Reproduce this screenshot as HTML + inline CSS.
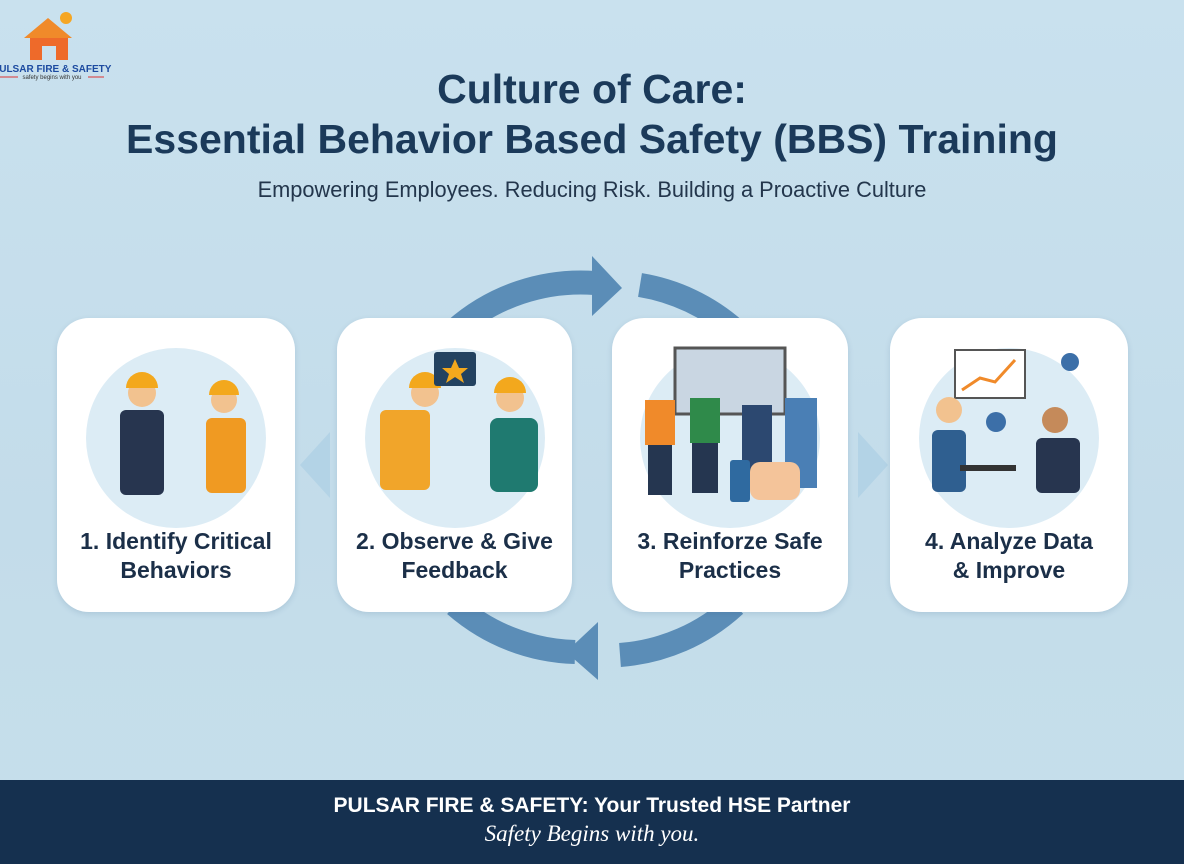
<!DOCTYPE html>
<html><head><meta charset="utf-8"><style>
*{margin:0;padding:0;box-sizing:border-box}
body{width:1184px;height:864px;overflow:hidden;font-family:"Liberation Sans","DejaVu Sans",sans-serif;background:linear-gradient(180deg,#c9e1ee 0%,#c3dcea 60%,#c6dfeb 100%);position:relative}
.t{position:absolute;left:0;width:1184px;text-align:center;color:#1b3a5a;font-weight:bold}
.card{position:absolute;top:318px;height:294px;background:#fff;border-radius:32px;box-shadow:0 2px 6px rgba(40,80,120,.15)}
.card .ill{position:absolute;left:50%;top:30px;width:180px;height:180px;margin-left:-90px;border-radius:50%;background:#dcecf5}
.card .lb{position:absolute;left:-10px;right:-10px;top:209px;text-align:center;font-weight:bold;font-size:23px;line-height:29px;color:#1b2f48}
.foot{position:absolute;left:0;top:780px;width:1184px;height:84px;background:#15304f;color:#fff;text-align:center}
</style></head><body>
<svg style="position:absolute;left:0;top:0" width="1184" height="864">
 <g fill="none" stroke="#5b8db7" stroke-width="24">
  <path d="M455 330 A190 190 0 0 1 595 283"/>
  <path d="M640 285 A190 190 0 0 1 735 330"/>
  <path d="M455 605 A190 190 0 0 0 575 652"/>
  <path d="M620 655 A190 190 0 0 0 735 605"/>
 </g>
 <polygon points="592,256 622,288 592,316" fill="#5b8db7"/>
 <polygon points="598,622 566,652 598,680" fill="#5b8db7"/>
 <polygon points="300,465 330,432 330,498" fill="#b3d3e6"/>
 <polygon points="888,465 858,432 858,498" fill="#b3d3e6"/>
 <polygon points="24,38 48,18 72,38" fill="#f08a2a"/>
 <rect x="30" y="38" width="38" height="22" fill="#ee6a2a"/>
 <rect x="42" y="46" width="14" height="14" fill="#c9e1ee"/>
 <circle cx="66" cy="18" r="6" fill="#f5a623"/>
 <text x="52" y="72" font-size="10" font-weight="bold" fill="#1c4aa0" text-anchor="middle" font-family="Liberation Sans">PULSAR FIRE &amp; SAFETY</text>
 <line x1="0" y1="77" x2="18" y2="77" stroke="#d33" stroke-width="1"/><line x1="88" y1="77" x2="104" y2="77" stroke="#d33"/>
 <text x="52" y="79" font-size="6" fill="#333" text-anchor="middle">safety begins with you</text>
 <polygon points="1128,785 1134,802 1151,808 1134,814 1128,831 1122,814 1105,808 1122,802" fill="#9fb0c2"/>
</svg>
<div class="t" style="top:66px;font-size:41px;line-height:46px">Culture of Care:</div>
<div class="t" style="top:116px;font-size:41px;line-height:46px">Essential Behavior Based Safety (BBS) Training</div>
<div class="t" style="top:177px;font-size:21.8px;font-weight:normal;color:#23364c">Empowering Employees. Reducing Risk. Building a Proactive Culture</div>

<div class="card" style="left:57px;width:238px"><div class="ill"></div><div class="lb">1. Identify Critical<br>Behaviors</div></div>
<div class="card" style="left:337px;width:235px"><div class="ill"></div><div class="lb">2. Observe &amp; Give<br>Feedback</div></div>
<div class="card" style="left:612px;width:236px"><div class="ill"></div><div class="lb">3. Reinforze Safe<br>Practices</div></div>
<div class="card" style="left:890px;width:238px"><div class="ill"></div><div class="lb">4. Analyze Data<br>&amp; Improve</div></div>

<svg style="position:absolute;left:0;top:0" width="1184" height="780">
 <g>
  <circle cx="142" cy="393" r="14" fill="#f2c28f"/><path d="M126 388 A16 16 0 0 1 158 388Z" fill="#f3a81d"/><rect x="120" y="410" width="44" height="85" rx="6" fill="#27354f"/>
  <circle cx="224" cy="400" r="13" fill="#f2c28f"/><path d="M209 395 A15 15 0 0 1 239 395Z" fill="#f3a81d"/><rect x="206" y="418" width="40" height="75" rx="6" fill="#f09a22"/>
  <circle cx="425" cy="393" r="14" fill="#f2c28f"/><path d="M409 388 A16 16 0 0 1 441 388Z" fill="#f3a81d"/><rect x="380" y="410" width="50" height="80" rx="6" fill="#f1a52a"/>
  <rect x="434" y="352" width="42" height="34" rx="3" fill="#234260"/><polygon points="455,359 459,368 468,368 461,374 464,383 455,377 446,383 449,374 442,368 451,368" fill="#f3a81d"/>
  <circle cx="510" cy="398" r="14" fill="#f2c28f"/><path d="M494 393 A16 16 0 0 1 526 393Z" fill="#f3a81d"/><rect x="490" y="418" width="48" height="74" rx="8" fill="#1f7a70"/>
  <rect x="675" y="348" width="110" height="66" fill="#c9d6e2" stroke="#555" stroke-width="3"/>
  <rect x="645" y="400" width="30" height="45" fill="#f08a2a"/><rect x="648" y="445" width="24" height="50" fill="#253650"/>
  <rect x="690" y="398" width="30" height="45" fill="#2f8a4a"/><rect x="692" y="443" width="26" height="50" fill="#253650"/>
  <rect x="742" y="405" width="30" height="85" fill="#2c4870"/><rect x="785" y="398" width="32" height="90" fill="#4a7fb5"/>
  <rect x="730" y="460" width="20" height="42" rx="3" fill="#2f6aa0"/><rect x="750" y="462" width="50" height="38" rx="10" fill="#f4c49a"/>
  <rect x="955" y="350" width="70" height="48" fill="#fff" stroke="#555" stroke-width="2"/><polyline points="962,390 980,378 995,382 1015,360" fill="none" stroke="#f08a2a" stroke-width="3"/>
  <circle cx="949" cy="410" r="13" fill="#f2c28f"/><rect x="932" y="430" width="34" height="62" rx="6" fill="#2f5f90"/>
  <rect x="960" y="465" width="56" height="6" fill="#333"/>
  <circle cx="1055" cy="420" r="13" fill="#c58a5a"/><rect x="1036" y="438" width="44" height="55" rx="6" fill="#27354f"/>
  <circle cx="996" cy="422" r="10" fill="#3c6fa8"/><circle cx="1070" cy="362" r="9" fill="#3c6fa8"/>
 </g>
</svg>

<div class="foot"><div style="padding-top:14px;font-size:21px;font-weight:bold">PULSAR FIRE &amp; SAFETY: Your Trusted HSE Partner</div><div style="font-size:23px;font-style:italic;font-family:'Liberation Serif',serif;margin-top:3px">Safety Begins with you.</div></div>
</body></html>
